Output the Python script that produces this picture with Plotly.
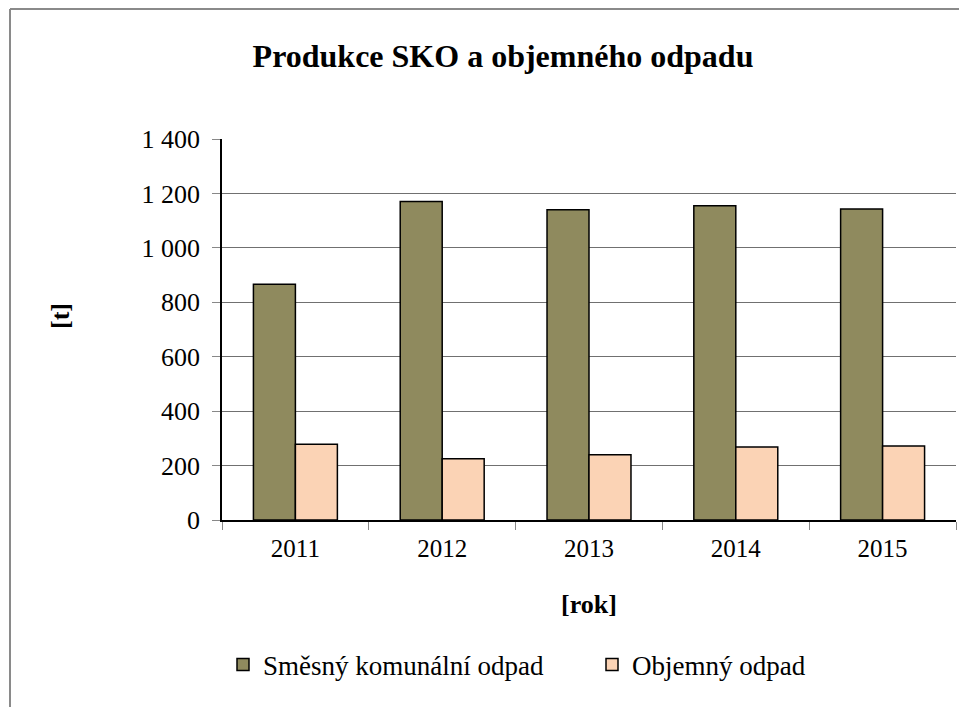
import plotly.graph_objects as go

years = ["2011", "2012", "2013", "2014", "2015"]
smesny = [866, 1170, 1140, 1155, 1143]
objemny = [278, 225, 240, 268, 272]
series_names = ["Směsný komunální odpad", "Objemný odpad"]
title_text = "Produkce SKO a objemného odpadu"

FONT = "Liberation Serif"

fig = go.Figure()
fig.add_trace(go.Bar(x=years, y=smesny, name=series_names[0],
                     marker=dict(color="#8F8A5E", line=dict(color="#000000", width=1.5))))
fig.add_trace(go.Bar(x=years, y=objemny, name=series_names[1],
                     marker=dict(color="#FBD3B5", line=dict(color="#000000", width=1.5))))

# page body has an 8px margin, so figure coords = screen coords - 8
W, H = 959, 699
L, R, T, B = 214, 11, 131, 187
pw, ph = W - L - R, H - T - B

def px2x(px):
    return (px - L) / pw

def py2y(py):
    return (H - B - py) / ph

fig.update_layout(
    width=W, height=H,
    margin=dict(l=L, r=R, t=T, b=B, pad=0, autoexpand=False),
    paper_bgcolor="white", plot_bgcolor="white",
    font=dict(family=FONT, color="black", size=25),
    separators=", ",
    barmode="group", bargap=0.428, bargroupgap=0,
    title=dict(text="<b>" + title_text + "</b>", x=px2x(495), xref="paper",
               y=1 - 48 / H, yref="container", xanchor="center", yanchor="middle",
               font=dict(size=32, family=FONT)),
    legend=dict(orientation="h", x=px2x(215), xref="paper", xanchor="left",
                y=py2y(657), yanchor="middle", font=dict(size=27, family=FONT),
                itemwidth=30, entrywidthmode="pixels", entrywidth=324),
    showlegend=True,
)
fig.update_xaxes(
    automargin=False,
    showline=True, linecolor="black", linewidth=1.5,
    ticks="outside", tickson="boundaries", ticklen=8, tickcolor="#888888",
    ticklabelstandoff=5,
    tickfont=dict(size=25, family=FONT),
    title=dict(text="<b>[rok]</b>", font=dict(size=26, family=FONT), standoff=34),
)
fig.update_yaxes(
    automargin=False,
    range=[0, 1400], dtick=200, tick0=0,
    separatethousands=True,
    showline=True, linecolor="black", linewidth=1.5,
    showgrid=True, gridcolor="#707070", gridwidth=1,
    ticks="outside", ticklen=8, tickcolor="#888888",
    ticklabelstandoff=7,
    tickfont=dict(size=26, family=FONT),
    zeroline=False,
)
fig.add_annotation(text="<b>[t]</b>", xref="paper", yref="paper",
                   x=px2x(52), y=py2y(308), showarrow=False, textangle=-90,
                   xanchor="center", yanchor="middle",
                   font=dict(size=26, family=FONT, color="black"))

# outer chart-area border (left and top edges visible)
fig.add_shape(type="line", xref="paper", yref="paper",
              x0=px2x(2), x1=px2x(2), y0=py2y(1), y1=py2y(699),
              line=dict(color="#8a8a8a", width=2))
fig.add_shape(type="line", xref="paper", yref="paper",
              x0=px2x(2), x1=px2x(959), y0=py2y(1), y1=py2y(1),
              line=dict(color="#8a8a8a", width=2))

fig.write_html("out.html")
